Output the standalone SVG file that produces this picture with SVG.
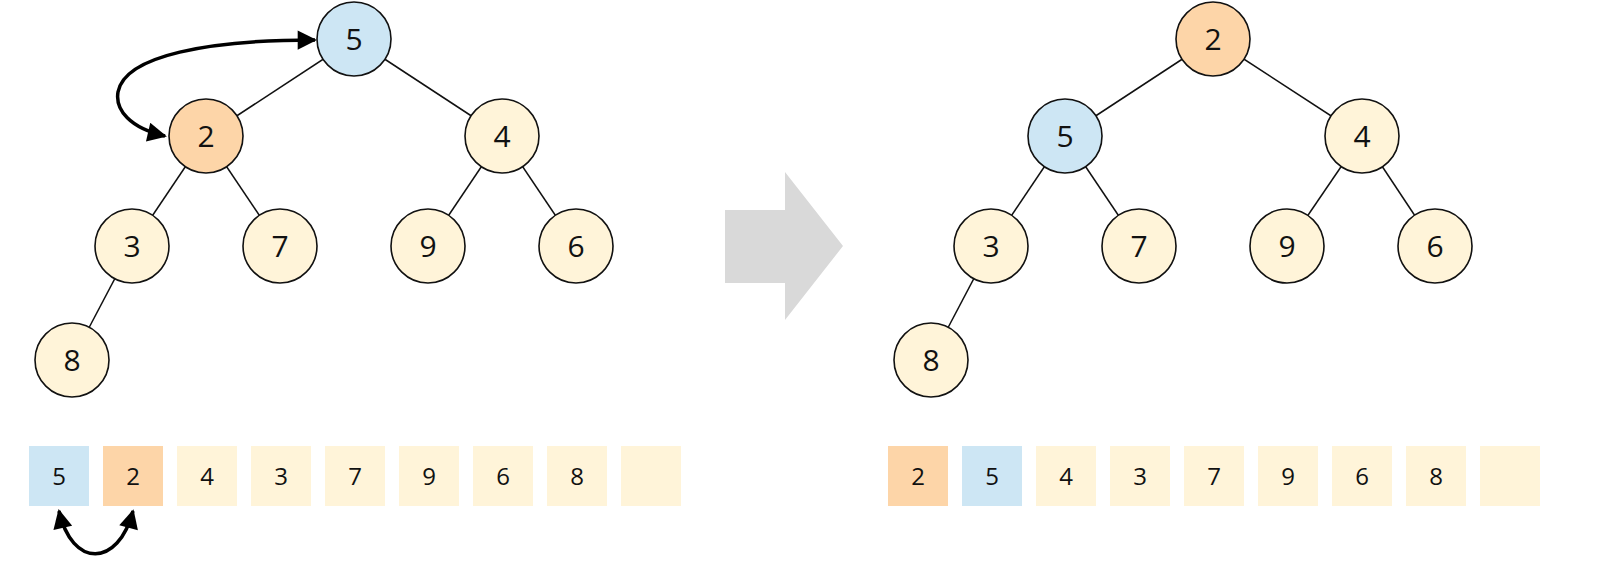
<svg xmlns="http://www.w3.org/2000/svg" width="1600" height="568" viewBox="0 0 1600 568">
<style>
.n circle{stroke:#111;stroke-width:1.6}
.b{fill:#cde6f4}.o{fill:#fdd5a8}.c{fill:#fff4d9}
text{font-family:"Open Sans","DejaVu Sans",sans-serif;fill:#111;text-anchor:middle}
.t{font-size:30px}.s{font-size:24px}
.e line{stroke:#111;stroke-width:1.5}
.a{fill:none;stroke:#000;stroke-width:3.5}
</style>
<defs><marker id="m" viewBox="0 0 10 10" refX="9" refY="5" markerWidth="6" markerHeight="5.5" orient="auto-start-reverse" markerUnits="strokeWidth"><path d="M0,0L10,5L0,10z" fill="#000"/></marker></defs>
<g id="edges" class="e">
<line x1="354" y1="39" x2="206" y2="136"/><line x1="354" y1="39" x2="502" y2="136"/>
<line x1="206" y1="136" x2="132" y2="246"/><line x1="206" y1="136" x2="280" y2="246"/>
<line x1="502" y1="136" x2="428" y2="246"/><line x1="502" y1="136" x2="576" y2="246"/>
<line x1="132" y1="246" x2="72" y2="360"/>
<line x1="1213" y1="39" x2="1065" y2="136"/><line x1="1213" y1="39" x2="1362" y2="136"/>
<line x1="1065" y1="136" x2="991" y2="246"/><line x1="1065" y1="136" x2="1139" y2="246"/>
<line x1="1362" y1="136" x2="1287" y2="246"/><line x1="1362" y1="136" x2="1435" y2="246"/>
<line x1="991" y1="246" x2="931" y2="360"/>
</g>
<g id="arrows">
<path class="a" marker-start="url(#m)" marker-end="url(#m)" d="M165,136 C130,128 115,110 118,92 C125,55 210,40 315,40"/>
<path class="a" marker-start="url(#m)" marker-end="url(#m)" d="M59,511 C72,568 118,568 133,511"/>
<polygon points="725,210 785,210 785,172 843,246 785,320 785,283 725,283" fill="#d9d9d9"/>
</g>
<g class="n">
<g id="L5"><circle class="b" cx="354" cy="39" r="37"/><text class="t" x="354" y="50">5</text></g>
<g id="L2"><circle class="o" cx="206" cy="136" r="37"/><text class="t" x="206" y="147">2</text></g>
<g id="L4"><circle class="c" cx="502" cy="136" r="37"/><text class="t" x="502" y="147">4</text></g>
<g id="L3"><circle class="c" cx="132" cy="246" r="37"/><text class="t" x="132" y="257">3</text></g>
<g id="L7"><circle class="c" cx="280" cy="246" r="37"/><text class="t" x="280" y="257">7</text></g>
<g id="L9"><circle class="c" cx="428" cy="246" r="37"/><text class="t" x="428" y="257">9</text></g>
<g id="L6"><circle class="c" cx="576" cy="246" r="37"/><text class="t" x="576" y="257">6</text></g>
<g id="L8"><circle class="c" cx="72" cy="360" r="37"/><text class="t" x="72" y="371">8</text></g>
<g id="R2"><circle class="o" cx="1213" cy="39" r="37"/><text class="t" x="1213" y="50">2</text></g>
<g id="R5"><circle class="b" cx="1065" cy="136" r="37"/><text class="t" x="1065" y="147">5</text></g>
<g id="R4"><circle class="c" cx="1362" cy="136" r="37"/><text class="t" x="1362" y="147">4</text></g>
<g id="R3"><circle class="c" cx="991" cy="246" r="37"/><text class="t" x="991" y="257">3</text></g>
<g id="R7"><circle class="c" cx="1139" cy="246" r="37"/><text class="t" x="1139" y="257">7</text></g>
<g id="R9"><circle class="c" cx="1287" cy="246" r="37"/><text class="t" x="1287" y="257">9</text></g>
<g id="R6"><circle class="c" cx="1435" cy="246" r="37"/><text class="t" x="1435" y="257">6</text></g>
<g id="R8"><circle class="c" cx="931" cy="360" r="37"/><text class="t" x="931" y="371">8</text></g>
</g>
<g id="arrL">
<rect class="b" x="29" y="446" width="60" height="60"/><text class="s" x="59" y="485">5</text>
<rect class="o" x="103" y="446" width="60" height="60"/><text class="s" x="133" y="485">2</text>
<rect class="c" x="177" y="446" width="60" height="60"/><text class="s" x="207" y="485">4</text>
<rect class="c" x="251" y="446" width="60" height="60"/><text class="s" x="281" y="485">3</text>
<rect class="c" x="325" y="446" width="60" height="60"/><text class="s" x="355" y="485">7</text>
<rect class="c" x="399" y="446" width="60" height="60"/><text class="s" x="429" y="485">9</text>
<rect class="c" x="473" y="446" width="60" height="60"/><text class="s" x="503" y="485">6</text>
<rect class="c" x="547" y="446" width="60" height="60"/><text class="s" x="577" y="485">8</text>
<rect class="c" x="621" y="446" width="60" height="60"/>
</g>
<g id="arrR">
<rect class="o" x="888" y="446" width="60" height="60"/><text class="s" x="918" y="485">2</text>
<rect class="b" x="962" y="446" width="60" height="60"/><text class="s" x="992" y="485">5</text>
<rect class="c" x="1036" y="446" width="60" height="60"/><text class="s" x="1066" y="485">4</text>
<rect class="c" x="1110" y="446" width="60" height="60"/><text class="s" x="1140" y="485">3</text>
<rect class="c" x="1184" y="446" width="60" height="60"/><text class="s" x="1214" y="485">7</text>
<rect class="c" x="1258" y="446" width="60" height="60"/><text class="s" x="1288" y="485">9</text>
<rect class="c" x="1332" y="446" width="60" height="60"/><text class="s" x="1362" y="485">6</text>
<rect class="c" x="1406" y="446" width="60" height="60"/><text class="s" x="1436" y="485">8</text>
<rect class="c" x="1480" y="446" width="60" height="60"/>
</g>
</svg>
